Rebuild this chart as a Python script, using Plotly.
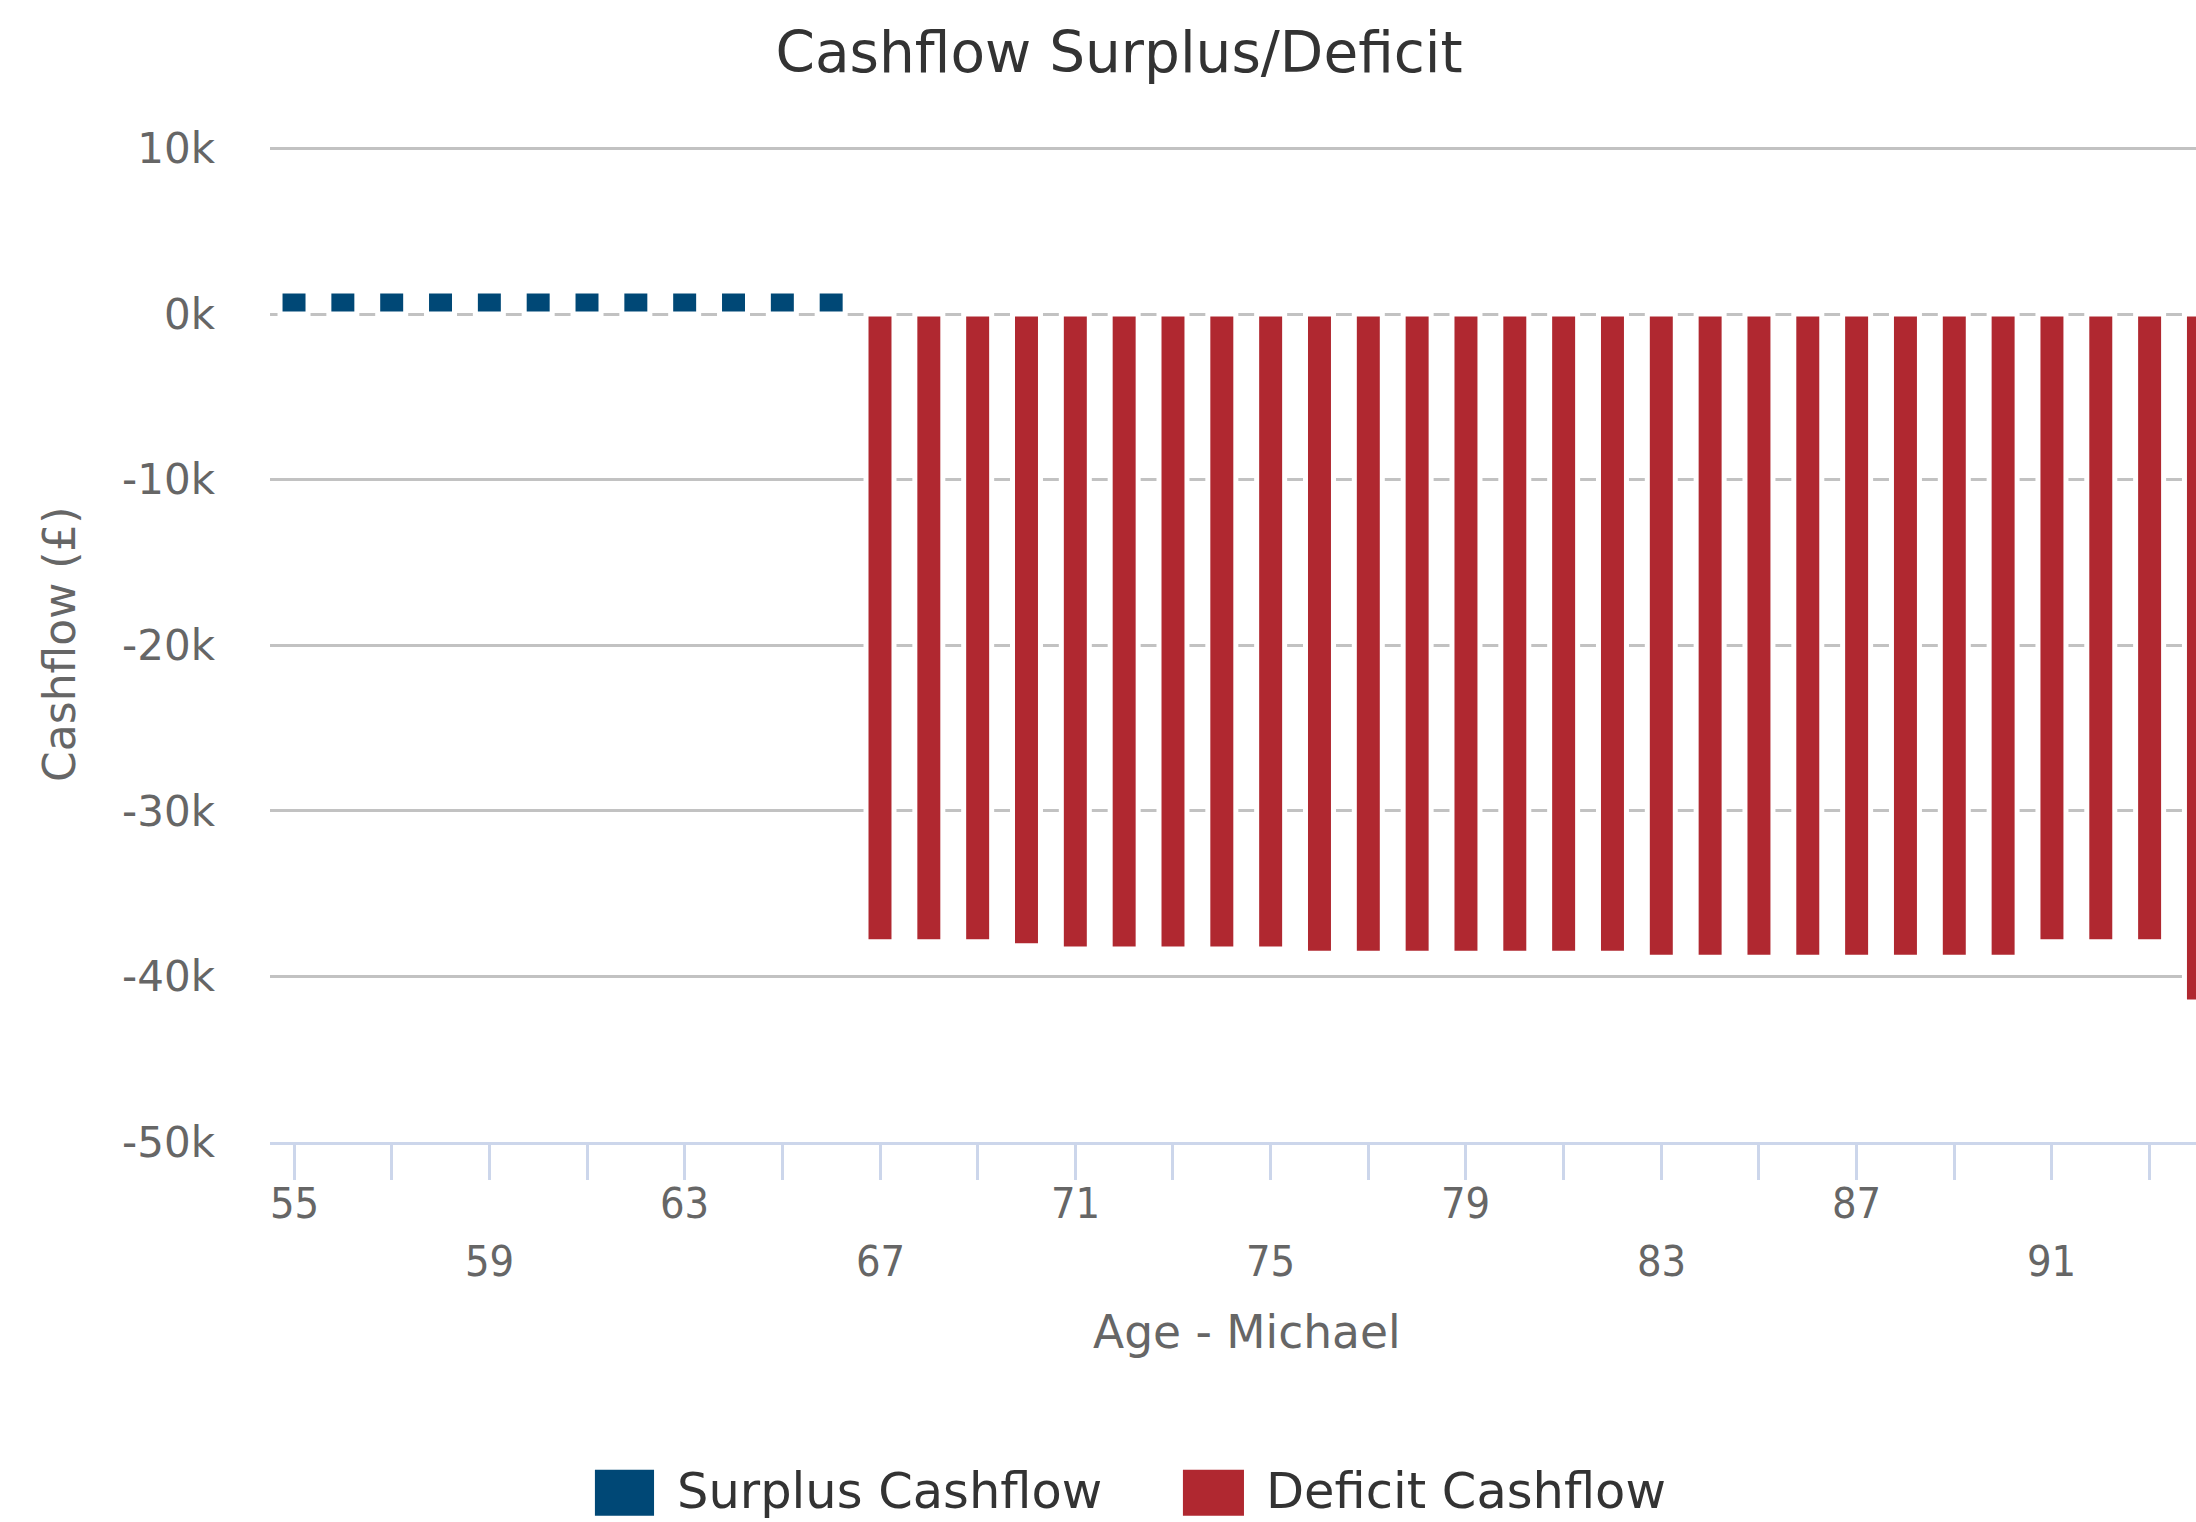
import plotly.graph_objects as go

# ---- data -------------------------------------------------------------
surplus_ages = [55, 56, 57, 58, 59, 60, 61, 62, 63, 64, 65, 66]
surplus_values = [1400, 1400, 1400, 1400, 1400, 1400, 1400, 1400, 1400, 1400, 1400, 1400]

deficit_ages = [67, 68, 69, 70, 71, 72, 73, 74, 75, 76, 77, 78, 79, 80,
                81, 82, 83, 84, 85, 86, 87, 88, 89, 90, 91, 92, 93, 94]
deficit_values = [-37900, -37900, -37900, -38150, -38350, -38350, -38350,
                  -38350, -38350, -38600, -38600, -38600, -38600, -38600,
                  -38600, -38600, -38850, -38850, -38850, -38850, -38850,
                  -38850, -38850, -38850, -37900, -37900, -37900, -41550]

series_names = ["Surplus Cashflow", "Deficit Cashflow"]
series_colors = ["#004876", "#B02830"]

x_tick_positions = [55, 57, 59, 61, 63, 65, 67, 69, 71, 73, 75, 77, 79, 81,
                    83, 85, 87, 89, 91, 93]
x_labels_row1 = [55, 63, 71, 79, 87]
x_labels_row2 = [59, 67, 75, 83, 91]

y_tick_values = [10000, 0, -10000, -20000, -30000, -40000, -50000]
y_tick_labels = ["10k", "0k", "-10k", "-20k", "-30k", "-40k", "-50k"]

chart_title = "Cashflow Surplus/Deficit"
x_title = "Age - Michael"
y_title = "Cashflow (£)"

# ---- styling ------------------------------------------------------------
FONT = "DejaVu Sans"
COND_FONT = "DejaVu Sans Condensed, DejaVu Sans"
LABEL_GREY = "#666666"
TEXT_DARK = "#333333"
GRID = "#c2c2c2"
AXIS_BLUE = "#ccd6eb"
BAR_WIDTH = 0.573

fig = go.Figure()
fig.add_trace(go.Bar(
    x=surplus_ages, y=surplus_values, name=series_names[0],
    width=BAR_WIDTH, marker=dict(color=series_colors[0],
                                 line=dict(color="white", width=5)),
    showlegend=False,
))
fig.add_trace(go.Bar(
    x=deficit_ages, y=deficit_values, name=series_names[1],
    width=BAR_WIDTH, marker=dict(color=series_colors[1],
                                 line=dict(color="white", width=5)),
    showlegend=False,
))

annotations = []
# staggered age labels under the axis
for age in x_labels_row1:
    annotations.append(dict(
        x=age, xref="x", y=-0.0614, yref="paper", text=str(age),
        showarrow=False, xanchor="center", yanchor="middle",
        font=dict(family=COND_FONT, size=43, color=LABEL_GREY)))
for age in x_labels_row2:
    annotations.append(dict(
        x=age, xref="x", y=-0.1192, yref="paper", text=str(age),
        showarrow=False, xanchor="center", yanchor="middle",
        font=dict(family=COND_FONT, size=43, color=LABEL_GREY)))

# axis titles
annotations.append(dict(
    x=0.5073, xref="paper", y=-0.1915, yref="paper", text=x_title,
    showarrow=False, xanchor="center", yanchor="middle",
    font=dict(family=FONT, size=45.5, color=LABEL_GREY)))
annotations.append(dict(
    x=-0.1096, xref="paper", y=0.5, yref="paper", text=y_title,
    textangle=-90, showarrow=False, xanchor="center", yanchor="middle",
    font=dict(family=FONT, size=44, color=LABEL_GREY)))

# legend: swatch + label for each series
legend_swatch_x = [(0.1687, 0.1994), (0.4740, 0.5057)]
legend_text_x = [0.2108, 0.5166]
shapes = []
for i, name in enumerate(series_names):
    x0, x1 = legend_swatch_x[i]
    shapes.append(dict(type="rect", xref="paper", yref="paper",
                       x0=x0, x1=x1, y0=-0.3753, y1=-0.3290,
                       fillcolor=series_colors[i], line=dict(width=0)))
    annotations.append(dict(
        x=legend_text_x[i], xref="paper", y=-0.3505, yref="paper",
        text=name, showarrow=False, xanchor="left", yanchor="middle",
        borderpad=0,
        font=dict(family=FONT, size=49.5, color=TEXT_DARK)))

fig.update_layout(
    width=2196, height=1522,
    margin=dict(l=270, r=0, t=146, b=380, autoexpand=False),
    paper_bgcolor="white", plot_bgcolor="white",
    barmode="overlay",
    title=dict(text=chart_title, xref="container", yref="container",
               x=0.5096, y=1 - 52 / 1522, xanchor="center", yanchor="middle",
               font=dict(family=FONT, size=56.5, color=TEXT_DARK)),
    xaxis=dict(
        range=[54.508, 93.95], tickmode="array", tickvals=x_tick_positions,
        showticklabels=False, ticks="outside", ticklen=35, tickwidth=3,
        tickcolor=AXIS_BLUE, showline=True, linecolor=AXIS_BLUE, linewidth=3,
        showgrid=False, zeroline=False, fixedrange=True,
    ),
    yaxis=dict(
        range=[-50000, 10150], tickmode="array", tickvals=y_tick_values,
        ticktext=y_tick_labels, ticks="", ticklabelstandoff=54,
        tickfont=dict(family=FONT, size=42, color=LABEL_GREY),
        showgrid=True, gridcolor=GRID, gridwidth=3, zeroline=False,
        showline=False, fixedrange=True,
    ),
    shapes=shapes,
    annotations=annotations,
    showlegend=False,
)

fig.write_html("out.html")
